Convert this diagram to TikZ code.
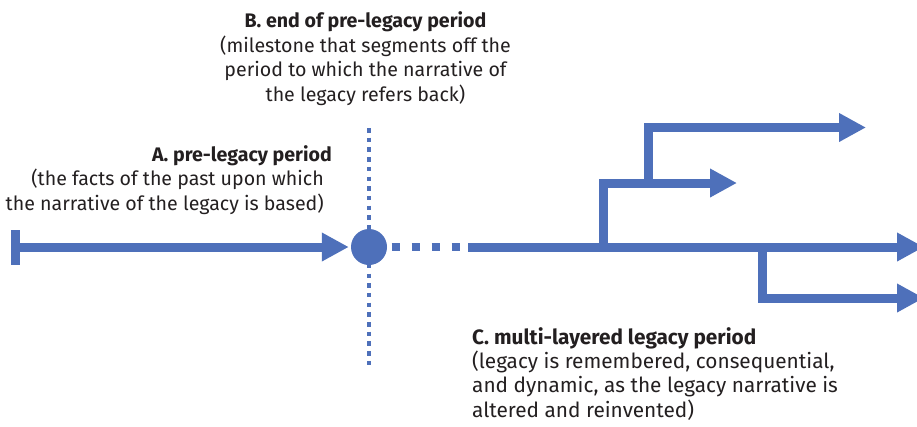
\documentclass[tikz,border=0pt]{standalone}
\usepackage{fontspec}
\setmainfont{Fira Sans}
\usetikzlibrary{arrows.meta}
\definecolor{flowblue}{HTML}{4E70BA}
\definecolor{inkgray}{HTML}{231F20}
\tikzset{
  flow/.style={draw=flowblue, line width=9pt, line join=miter,
    -{Triangle[length=27pt,width=27pt]}},
  plainflow/.style={draw=flowblue, line width=9pt, line join=miter},
  milestone/.style={circle, fill=flowblue, minimum size=36pt, inner sep=0pt},
  cut/.style={draw=flowblue, line width=4.5pt, dash pattern=on 4.5pt off 5.2pt},
  gap/.style={draw=flowblue, line width=8pt, dash pattern=on 8.3pt off 11.7pt},
  label/.style={text=inkgray, inner sep=0pt}
}
\begin{document}
\begin{tikzpicture}[x=1pt,y=-1pt]
  \useasboundingbox (0,0) rectangle (917,426);

  % vertical cut through the milestone
  \coordinate (cuttop) at (369,128);
  \coordinate (cutbot) at (369,367);
  \draw[cut] (cuttop) -- (cutbot);

  % pre-legacy period
  \coordinate (bartop) at (15.5,230);
  \coordinate (barbot) at (15.5,265);
  \coordinate (start) at (15.5,247);
  \draw[plainflow] (bartop) -- (barbot);
  \node[milestone] (mile) at (369,247) {};
  \draw[flow, shorten >=2pt] (start) -- (mile.west);

  % gap after the milestone, then the legacy line
  \coordinate (gapstart) at (391.7,247);
  \coordinate (solid) at (468.3,247);
  \coordinate (mainend) at (924,247);
  \draw[gap] (gapstart) -- (solid);
  \draw[flow] (solid) -- (mainend);

  % branches of the legacy
  \coordinate (j1) at (603.5,247);
  \coordinate (b1end) at (737,183);
  \coordinate (j2) at (648,183);
  \coordinate (b2end) at (866,127.5);
  \coordinate (j3) at (762.5,247);
  \coordinate (b3end) at (924,298);
  \draw[flow] (j1) |- (b1end);
  \draw[flow] (j2) |- (b2end);
  \draw[flow] (j3) |- (b3end);

  % labels (anchored on the baseline of their last line)
  \node[label, align=center, anchor=base, font=\fontsize{19.6pt}{24.4pt}\selectfont]
    (labB) at (365.5,101)
    {\textbf{B. end of pre-legacy period}\\(milestone that segments off the\\period to which the narrative of\\the legacy refers back)};
  \node[label, align=right, anchor=base east, font=\fontsize{19.6pt}{24.5pt}\selectfont]
    (labA) at (324,210)
    {\textbf{A. pre-legacy period}\kern-8pt\\(the facts of the past upon which\\the narrative of the legacy is based)};
  \node[label, align=left, anchor=base west, font=\fontsize{20.8pt}{24.2pt}\selectfont]
    (labC) at (472,417)
    {\textbf{C. multi-layered legacy period}\\(legacy is remembered, consequential,\\and dynamic, as the legacy narrative is\\altered and reinvented)};
\end{tikzpicture}
\end{document}
